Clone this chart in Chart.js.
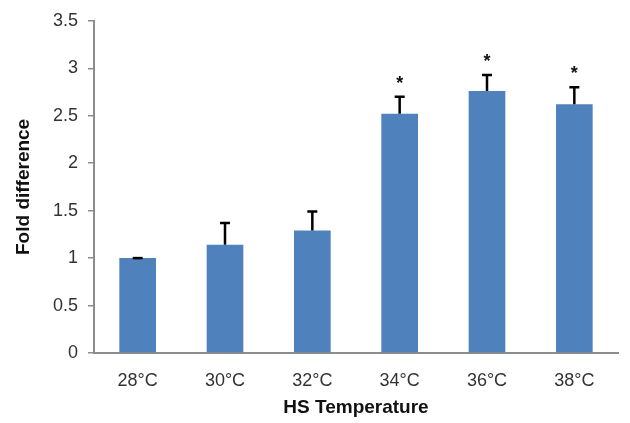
<!DOCTYPE html>
<html>
<head>
<meta charset="utf-8">
<script src="https://cdn.jsdelivr.net/npm/chart.js@4.4.0/dist/chart.umd.min.js"></script>
<style>
  html, body { margin: 0; padding: 0; background: #fff; }
  #wrap { width: 630px; height: 423px; position: relative; }
</style>
</head>
<body>
<div id="wrap"><canvas id="chart"></canvas></div>
<script>
const temps = ["28°C", "30°C", "32°C", "34°C", "36°C", "38°C"];
const foldValues = [1.0, 1.14, 1.29, 2.52, 2.76, 2.62];
const errorUp = [0.0, 0.23, 0.20, 0.18, 0.17, 0.18];
const starred = [false, false, false, true, true, true];

const FONT = "'Liberation Sans', Arial, sans-serif";

// error bars (upper only) + significance stars
const errorBarPlugin = {
  id: "errorBars",
  afterDatasetsDraw: (chart) => {
    const ctx = chart.ctx;
    const meta = chart.getDatasetMeta(0);
    const y = chart.scales.y;
    ctx.save();
    meta.data.forEach((bar, i) => {
      const top = y.getPixelForValue(foldValues[i] + errorUp[i]);
      const base = y.getPixelForValue(foldValues[i]);
      ctx.strokeStyle = "#000";
      ctx.lineWidth = 2.5;
      ctx.beginPath();
      ctx.moveTo(bar.x, base);
      ctx.lineTo(bar.x, top);
      ctx.moveTo(bar.x - 5, top);
      ctx.lineTo(bar.x + 5, top);
      ctx.stroke();
      if (starred[i]) {
        ctx.fillStyle = "#111";
        ctx.font = "bold 18px " + FONT;
        ctx.textAlign = "center";
        ctx.textBaseline = "middle";
        ctx.fillText("*", bar.x, top - 13);
      }
    });
    ctx.restore();
  },
};

new Chart("chart", {
  type: "bar",
  data: {
    labels: temps,
    datasets: [
      {
        label: "Fold difference",
        data: foldValues,
        backgroundColor: "#4F81BD",
        borderWidth: 0,
        barPercentage: 0.84,
        categoryPercentage: 0.5,
      },
    ],
  },
  options: {
    responsive: true,
    maintainAspectRatio: false,
    animation: false,
    layout: {
      padding: { top: 14, right: 12, left: 0, bottom: 0 },
    },
    scales: {
      x: {
        grid: { display: false },
        border: { display: true, color: "#8c8c8c", width: 2 },
        ticks: {
          color: "#333",
          padding: 9,
          font: { family: FONT, size: 18 },
        },
        title: {
          display: true,
          text: "HS Temperature",
          color: "#111",
          padding: { top: 10 },
          font: { family: FONT, size: 19, weight: "bold" },
        },
        afterFit: (scale) => {
          scale.height = 70;
        },
      },
      y: {
        min: 0,
        max: 3.5,
        grid: {
          drawOnChartArea: false,
          drawTicks: true,
          tickLength: 6,
          color: "#8c8c8c",
          lineWidth: 1.5,
        },
        border: { display: true, color: "#8c8c8c", width: 2 },
        ticks: {
          stepSize: 0.5,
          color: "#333",
          padding: 10,
          font: { family: FONT, size: 18 },
          callback: (v) => String(v),
        },
        title: {
          display: true,
          text: "Fold difference",
          color: "#111",
          padding: { top: 12, bottom: 0 },
          font: { family: FONT, size: 19, weight: "bold" },
        },
        afterFit: (scale) => {
          scale.width = 94;
        },
      },
    },
    plugins: {
      legend: { display: false },
      tooltip: { enabled: false },
    },
  },
  plugins: [errorBarPlugin],
});
</script>
</body>
</html>
